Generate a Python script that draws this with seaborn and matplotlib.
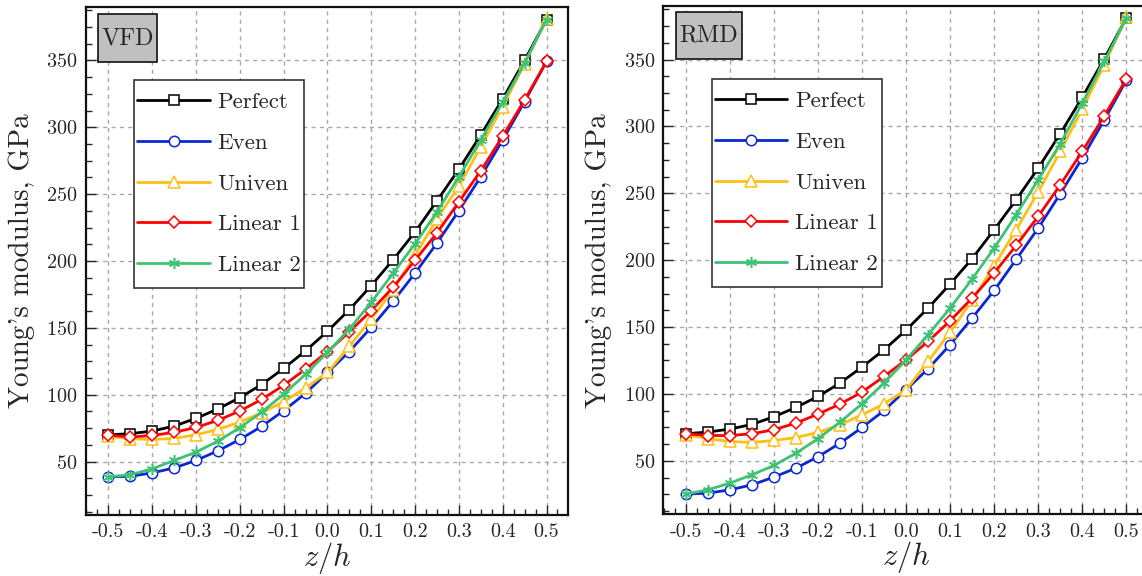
import numpy as np
import pandas as pd
import matplotlib
matplotlib.use("Agg")
import matplotlib.pyplot as plt
from matplotlib.patches import Rectangle
from matplotlib.ticker import MultipleLocator, FixedLocator, FixedFormatter
import seaborn as sns

# Through-thickness coordinate z/h
z = [-0.50, -0.45, -0.40, -0.35, -0.30, -0.25, -0.20, -0.15, -0.10, -0.05, 0.00,
     0.05, 0.10, 0.15, 0.20, 0.25, 0.30, 0.35, 0.40, 0.45, 0.50]

series_names = ["Perfect", "Even", "Univen", "Linear 1", "Linear 2"]

# Young's modulus (GPa), VFD model
vfd_perfect = [70.0, 70.8, 72.8, 76.5, 82.3, 89.3, 97.8, 107.6, 119.6, 132.8, 147.4,
               163.6, 181.6, 201.0, 221.7, 245.0, 268.7, 294.3, 321.3, 350.1, 380.6]
vfd_even = [38.5, 39.0, 41.5, 45.2, 50.8, 58.0, 66.5, 76.3, 88.0, 101.0, 116.6,
            132.3, 150.4, 169.9, 190.9, 213.4, 237.7, 263.0, 290.5, 319.3, 349.3]
vfd_univen = [69.0, 67.0, 66.5, 67.3, 70.0, 74.0, 79.5, 86.5, 94.8, 105.0, 116.6,
              136.1, 156.6, 178.4, 204.2, 231.7, 256.0, 285.5, 315.5, 347.6, 381.0]
vfd_linear1 = [69.8, 68.3, 69.5, 71.8, 75.5, 80.8, 87.8, 96.5, 107.0, 119.1, 132.1,
               147.1, 162.9, 180.4, 200.6, 221.0, 244.2, 267.5, 293.3, 320.5, 349.3]
vfd_linear2 = [38.5, 40.2, 44.5, 50.8, 57.0, 65.3, 75.3, 87.0, 100.3, 115.3, 131.6,
               149.1, 169.1, 190.9, 212.9, 236.7, 263.0, 290.5, 318.8, 348.0, 380.6]

# Young's modulus (GPa), RMD model
rmd_perfect = [70.2, 71.5, 73.7, 77.2, 82.9, 89.9, 98.1, 108.1, 120.1, 133.0, 147.7,
               164.2, 182.2, 201.2, 222.8, 245.2, 268.9, 294.6, 321.8, 350.7, 381.1]
rmd_even = [25.1, 25.8, 28.3, 32.0, 37.8, 44.5, 53.0, 63.2, 74.9, 87.6, 103.1,
            118.8, 136.8, 156.7, 177.4, 200.6, 224.0, 249.7, 276.4, 305.0, 334.5]
rmd_univen = [69.5, 66.5, 64.5, 63.7, 65.2, 67.4, 71.2, 76.9, 84.4, 92.6, 103.1,
              124.3, 146.2, 169.9, 196.0, 222.8, 251.0, 281.4, 313.0, 346.2, 381.8]
rmd_linear1 = [70.2, 68.9, 68.9, 70.2, 73.2, 78.2, 84.9, 92.4, 101.4, 113.1, 125.5,
               139.2, 154.7, 171.7, 190.4, 211.1, 232.8, 256.4, 281.4, 308.0, 335.5]
rmd_linear2 = [25.1, 28.3, 33.3, 39.5, 46.5, 55.7, 66.5, 78.9, 92.6, 108.1, 125.5,
               144.2, 164.2, 185.9, 209.1, 234.0, 260.2, 287.1, 317.5, 348.7, 381.0]

xtick_values = [-0.5, -0.4, -0.3, -0.2, -0.1, 0.0, 0.1, 0.2, 0.3, 0.4, 0.5]
xtick_labels = ["-0.5", "-0.4", "-0.3", "-0.2", "-0.1", "0.0", "0.1", "0.2", "0.3", "0.4", "0.5"]
ytick_values = [50, 100, 150, 200, 250, 300, 350]

panel_titles = ["VFD", "RMD"]

sns.set_style("ticks")
plt.rcParams["font.family"] = ["cmr10", "DejaVu Serif"]
plt.rcParams["mathtext.fontset"] = "cm"
plt.rcParams["axes.unicode_minus"] = False
plt.rcParams["axes.formatter.use_mathtext"] = True

colors = ["#000000", "#0a28d2", "#ffbf14", "#ff0000", "#3ec274"]
markers = ["s", "o", "^", "D", (6, 2, 0)]
msizes = [7, 7.5, 8.5, 6.5, 8]

fig = plt.figure(figsize=(11.42, 5.76), dpi=100)
ax_l = fig.add_axes([86 / 1142, 1 - 515 / 576, 482 / 1142, 508 / 576])
ax_r = fig.add_axes([663.3 / 1142, 1 - 514.3 / 576, 484.7 / 1142, 508.3 / 576])

# (axes, series, tag box [x0, y0, x1, y1] in axes fraction, legend anchor)
panels = [
    (ax_l, [vfd_perfect, vfd_even, vfd_univen, vfd_linear1, vfd_linear2],
     (0.0249, 0.892, 0.1473, 0.986), (0.0996, 0.8386)),
    (ax_r, [rmd_perfect, rmd_even, rmd_univen, rmd_linear1, rmd_linear2],
     (0.0262, 0.8957, 0.1618, 0.9888), (0.0999, 0.8387)),
]

legends = []
for (ax, data, tag_box, leg_anchor), title in zip(panels, panel_titles):
    for name, vals, c, m, ms in zip(series_names, data, colors, markers, msizes):
        df = pd.DataFrame({"z": z, "E": vals})
        sns.lineplot(data=df, x="z", y="E", ax=ax, color=c, lw=2.0,
                     marker=m, markersize=ms, markerfacecolor="white",
                     markeredgecolor=c, markeredgewidth=1.1, label=name,
                     zorder=3)
    ax.set_xlim(-0.551, 0.549)
    ax.set_ylim(10, 390)
    ax.xaxis.set_major_locator(FixedLocator(xtick_values))
    ax.xaxis.set_major_formatter(FixedFormatter(xtick_labels))
    ax.xaxis.set_minor_locator(MultipleLocator(0.025))
    ax.yaxis.set_major_locator(FixedLocator(ytick_values))
    ax.yaxis.set_minor_locator(MultipleLocator(12.5))
    ax.tick_params(axis="both", which="major", direction="in", length=7, width=1.0,
                   labelsize=14.5, top=False, right=False, pad=6)
    ax.tick_params(axis="both", which="minor", direction="in", length=4, width=1.0,
                   top=False, right=False)
    ax.grid(True, which="major", color="#a8a8a8", linestyle=(0, (3, 3)), lw=1.0, zorder=0)
    for s in ax.spines.values():
        s.set_linewidth(1.6)
        s.set_color("#111111")
    ax.set_xlabel("$z/h$", fontsize=22, labelpad=-1)
    ax.set_ylabel("Young's modulus, GPa", fontsize=21, labelpad=8)

    # Grey tag box with the model name
    x0, y0, x1, y1 = tag_box
    ax.add_patch(Rectangle((x0, y0), x1 - x0, y1 - y0, transform=ax.transAxes,
                           facecolor="#c0c0c0", edgecolor="#111111", lw=1.2,
                           zorder=6, clip_on=False))
    ax.text((x0 + x1) / 2, (y0 + y1) / 2, title, transform=ax.transAxes,
            fontsize=17.5, ha="center", va="center", zorder=7)

    leg = ax.legend(loc="upper left", bbox_to_anchor=leg_anchor, borderaxespad=0,
                    fontsize=16.5, handlelength=3.15, labelspacing=0.9, borderpad=0.15,
                    handletextpad=0.35, frameon=False)
    leg.set_zorder(8)
    legends.append((ax, leg))

# Frame around each legend, with extra room above and below the entries
fig.canvas.draw()
renderer = fig.canvas.get_renderer()
vpad = 9.0
for ax, leg in legends:
    bb = leg.get_window_extent(renderer)
    inv = ax.transAxes.inverted()
    (fx0, fy0) = inv.transform((bb.x0, bb.y0 - vpad))
    (fx1, fy1) = inv.transform((bb.x1, bb.y1 + vpad))
    ax.add_patch(Rectangle((fx0, fy0), fx1 - fx0, fy1 - fy0, transform=ax.transAxes,
                           facecolor="white", edgecolor="#333333", lw=1.2, zorder=7.5))

fig.savefig("out.png", dpi=100)
